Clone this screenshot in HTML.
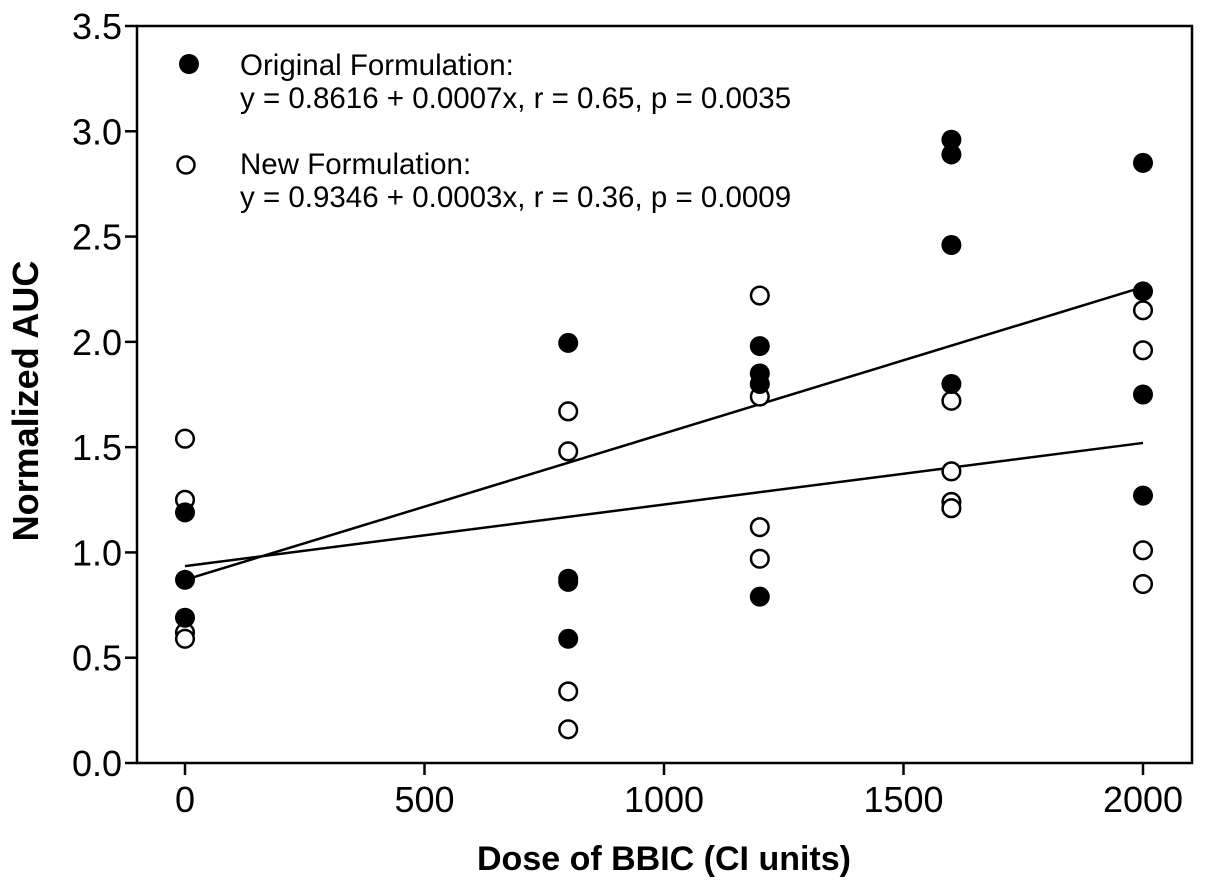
<!DOCTYPE html>
<html><head><meta charset="utf-8"><style>
html,body{margin:0;padding:0;background:#fff;}
svg{display:block;font-family:"Liberation Sans",Arial,sans-serif;}
</style></head><body>
<svg id="chart" width="1205" height="891" viewBox="0 0 1205 891">
<rect x="137" y="26" width="1055" height="737" fill="none" stroke="#000" stroke-width="2.5"/>
<g id="axes"></g>
<g id="lines"></g>
<g id="points"></g>
<text x="38" y="401" transform="rotate(-90 38 401)" text-anchor="middle" font-size="36" font-weight="bold">Normalized AUC</text>
<text x="664" y="870" text-anchor="middle" font-size="34" font-weight="bold">Dose of BBIC (CI units)</text>
<g>
<circle cx="189" cy="64" r="10" fill="#000"/>
<text x="240" y="75" font-size="29.5">Original Formulation:</text>
<text x="240" y="108" font-size="29.5">y = 0.8616 + 0.0007x, r = 0.65, p = 0.0035</text>
<circle cx="186" cy="165" r="8.5" fill="#fff" stroke="#000" stroke-width="2.5"/>
<text x="240" y="174" font-size="29.5">New Formulation:</text>
<text x="240" y="207" font-size="29.5">y = 0.9346 + 0.0003x, r = 0.36, p = 0.0009</text>
</g>
</svg>
<script>
const xTicks = [0, 500, 1000, 1500, 2000];
const yTicks = [0, 0.5, 1.0, 1.5, 2.0, 2.5, 3.0, 3.5];
const yTickLabels = ["0.0","0.5","1.0","1.5","2.0","2.5","3.0","3.5"];
const originalX = [0,0,0, 800,800,800,800, 1200,1200,1200,1200, 1600,1600,1600,1600, 2000,2000,2000,2000];
const originalY = [1.19,0.87,0.69, 1.995,0.875,0.86,0.59, 1.98,1.85,1.80,0.79, 2.96,2.89,2.46,1.80, 2.85,2.24,1.75,1.27];
const newX = [0,0,0,0, 800,800,800,800, 1200,1200,1200,1200, 1600,1600,1600,1600, 2000,2000,2000,2000];
const newY = [1.54,1.25,0.62,0.59, 1.67,1.48,0.34,0.16, 2.22,1.74,1.12,0.97, 1.72,1.385,1.24,1.21, 2.15,1.96,1.01,0.85];
const fitX = [0, 2000];
const originalFitY = [0.87, 2.26];
const newFitY = [0.935, 1.52];

const NS = "http://www.w3.org/2000/svg";
function sx(v){ return 185 + v * (1143 - 185) / 2000; }
function sy(v){ return 763 - v * (763 - 26) / 3.5; }
function mk(tag, attrs, parent){ const e = document.createElementNS(NS, tag); for (const k in attrs) e.setAttribute(k, attrs[k]); parent.appendChild(e); return e; }

const axes = document.getElementById('axes');
xTicks.forEach(function(t){
  const l = mk('line', {x1: sx(t), x2: sx(t), y1: 763, y2: 775, stroke: '#000', 'stroke-width': 2.5}, axes);
  
  
  const tx = mk('text', {x: sx(t), y: 812, 'text-anchor': 'middle', 'font-size': 36}, axes);
  tx.textContent = String(t);
  
  
});
yTicks.forEach(function(t, i){
  const l = mk('line', {x1: 125, x2: 137, y1: sy(t), y2: sy(t), stroke: '#000', 'stroke-width': 2.5}, axes);
  
  
  const tx = mk('text', {x: 122, y: sy(t) + 13, 'text-anchor': 'end', 'font-size': 36}, axes);
  tx.textContent = yTickLabels[i];
  
  
});

const lines = document.getElementById('lines');
const l1 = mk('line', {x1: sx(fitX[0]), y1: sy(originalFitY[0]), x2: sx(fitX[1]), y2: sy(originalFitY[1]), stroke: '#000', 'stroke-width': 2.5}, lines);


const l2 = mk('line', {x1: sx(fitX[0]), y1: sy(newFitY[0]), x2: sx(fitX[1]), y2: sy(newFitY[1]), stroke: '#000', 'stroke-width': 2.5}, lines);



const pts = document.getElementById('points');
newX.forEach(function(x, i){
  const c = mk('circle', {cx: sx(x), cy: sy(newY[i]), r: 8.8, fill: '#fff', stroke: '#000', 'stroke-width': 2.5}, pts);
  
  
});
originalX.forEach(function(x, i){
  const c = mk('circle', {cx: sx(x), cy: sy(originalY[i]), r: 10, fill: '#000'}, pts);
  
  
});
</script>
</body></html>
